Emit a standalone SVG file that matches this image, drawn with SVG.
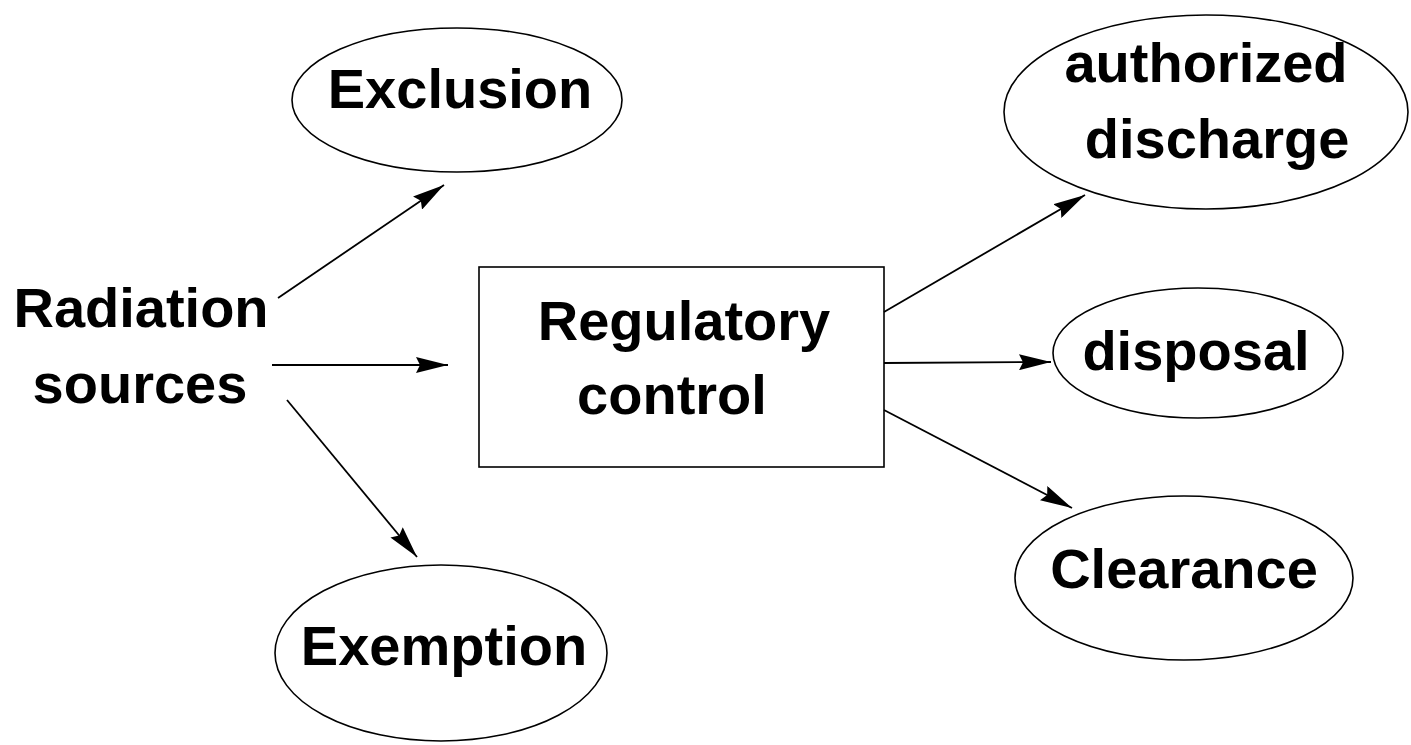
<svg xmlns="http://www.w3.org/2000/svg" width="1411" height="745" viewBox="0 0 1411 745">
<defs>
<style>
.t{font-family:"Liberation Sans",Arial,sans-serif;font-weight:bold;font-size:56px;fill:#000;text-anchor:middle}
.n{fill:#fff;stroke:#000;stroke-width:1.6}
.c{stroke:#000;stroke-width:1.8;fill:none;marker-end:url(#ah)}
</style>
<marker id="ah" markerUnits="userSpaceOnUse" markerWidth="34" markerHeight="16" refX="32" refY="8" orient="auto">
<path d="M0,0 L32,8 L0,16 L4,8 z" fill="#000"/>
</marker>
</defs>
<rect width="1411" height="745" fill="#fff"/>
<g id="radiation">
<text class="t" x="141" y="327">Radiation</text>
<text class="t" x="140" y="403">sources</text>
</g>
<g id="exclusion">
<ellipse class="n" cx="457" cy="100" rx="165" ry="72"/>
<text class="t" x="460" y="108">Exclusion</text>
</g>
<g id="exemption">
<ellipse class="n" cx="441" cy="653" rx="166" ry="88"/>
<text class="t" x="444" y="665">Exemption</text>
</g>
<g id="regulatory">
<rect class="n" x="479" y="267" width="405" height="200"/>
<text class="t" x="684" y="340">Regulatory</text>
<text class="t" x="672" y="414">control</text>
</g>
<g id="authorized">
<ellipse class="n" cx="1206" cy="112" rx="202" ry="97"/>
<text class="t" x="1206" y="82">authorized</text>
<text class="t" x="1217" y="158">discharge</text>
</g>
<g id="disposal">
<ellipse class="n" cx="1198" cy="353" rx="145" ry="65"/>
<text class="t" x="1196" y="370">disposal</text>
</g>
<g id="clearance">
<ellipse class="n" cx="1184" cy="578" rx="169" ry="82"/>
<text class="t" x="1184" y="588">Clearance</text>
</g>
<g id="connectors">
<line class="c" x1="278" y1="298" x2="444" y2="185"/>
<line class="c" x1="272" y1="365" x2="448" y2="365"/>
<line class="c" x1="287" y1="400" x2="417" y2="557"/>
<line class="c" x1="884" y1="312" x2="1085" y2="195"/>
<line class="c" x1="884" y1="363" x2="1051" y2="362"/>
<line class="c" x1="884" y1="410" x2="1072" y2="508"/>
</g>
</svg>
